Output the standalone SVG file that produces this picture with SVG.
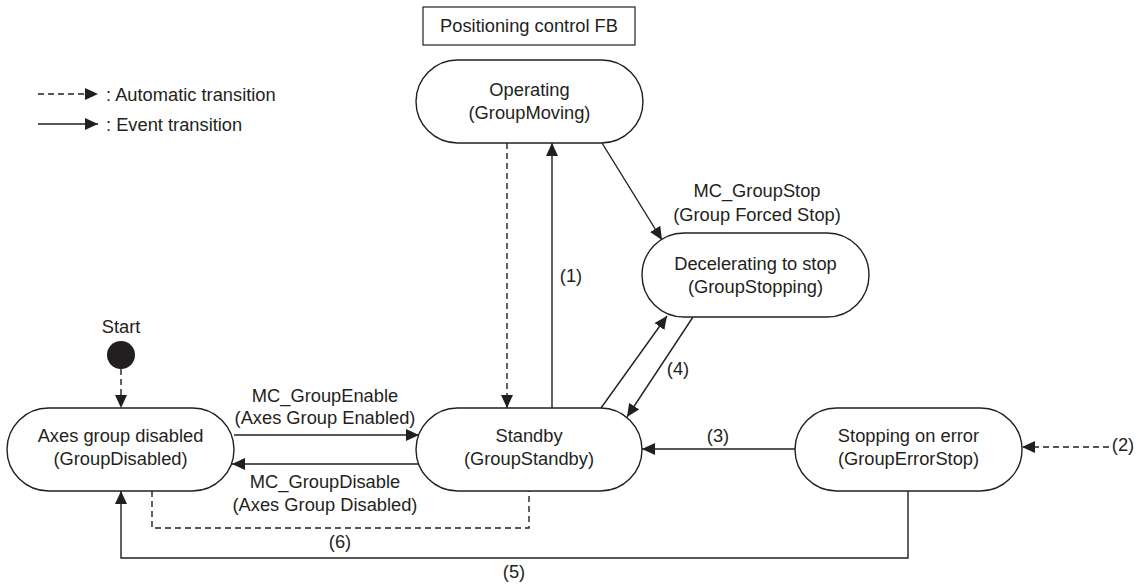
<svg xmlns="http://www.w3.org/2000/svg" width="1140" height="588" viewBox="0 0 1140 588">
<defs>
<marker id="ah" viewBox="0 0 13 12" markerWidth="13" markerHeight="12" refX="13" refY="6" orient="auto" markerUnits="userSpaceOnUse">
<path d="M0,0 L13,6 L0,12 z" fill="#231f20"/>
</marker>
<style>
text{font-family:"Liberation Sans",Arial,sans-serif;font-size:18.3px;fill:#231f20;text-anchor:middle}
.st{fill:#fff;stroke:#231f20;stroke-width:1.4}
.c{fill:none;stroke:#231f20;stroke-width:1.4}
.d{stroke-dasharray:6 4}
.a{marker-end:url(#ah)}
.l{text-anchor:start}
</style>
</defs>
<rect width="1140" height="588" fill="#fff"/>
<g id="legend">
<line class="c d a" x1="38" y1="94" x2="98" y2="94"/>
<text class="l" x="106" y="101">: Automatic transition</text>
<line class="c a" x1="38" y1="124" x2="98" y2="124"/>
<text class="l" x="106" y="131">: Event transition</text>
</g>
<g id="connectors">
<line class="c d a" x1="121" y1="369" x2="121" y2="408"/>
<line class="c d a" x1="507" y1="143" x2="507" y2="408"/>
<line class="c a" x1="552" y1="408" x2="552" y2="143"/>
<line class="c a" x1="602" y1="143" x2="662" y2="240"/>
<line class="c a" x1="601" y1="408" x2="667" y2="316"/>
<line class="c a" x1="693" y1="317" x2="627" y2="417"/>
<line class="c a" x1="234" y1="435" x2="419" y2="435"/>
<line class="c a" x1="418" y1="464" x2="232" y2="464"/>
<line class="c a" x1="795" y1="449" x2="642" y2="449"/>
<line class="c d a" x1="1109" y1="447" x2="1022" y2="447"/>
<polyline class="c a" points="908,491 908,558 121,558 121,491"/>
<polyline class="c d" points="152,491 152,528 529,528 529,491"/>
<text x="325" y="402">MC_GroupEnable</text>
<text x="325" y="424">(Axes Group Enabled)</text>
<text x="325" y="488">MC_GroupDisable</text>
<text x="325" y="511">(Axes Group Disabled)</text>
<text x="340" y="548">(6)</text>
<text x="514" y="578">(5)</text>
<text x="718" y="442">(3)</text>
<text x="1123" y="451">(2)</text>
<text x="678" y="375">(4)</text>
<text x="571" y="282">(1)</text>
<text x="757" y="197">MC_GroupStop</text>
<text x="757" y="221">(Group Forced Stop)</text>
</g>
<g id="fb">
<rect x="423" y="7" width="212" height="38" fill="#fff" stroke="#231f20" stroke-width="1.2"/>
<text x="529" y="32">Positioning control FB</text>
</g>
<g id="start">
<circle cx="121" cy="355" r="14" fill="#231f20"/>
<text x="121" y="333">Start</text>
</g>
<g id="operating">
<rect class="st" x="416" y="60" width="227" height="83" rx="41.5"/>
<text x="529.5" y="96">Operating</text>
<text x="529.5" y="119">(GroupMoving)</text>
</g>
<g id="decelerating">
<rect class="st" x="642" y="233" width="227" height="84" rx="42"/>
<text x="755.5" y="270">Decelerating to stop</text>
<text x="755.5" y="293">(GroupStopping)</text>
</g>
<g id="disabled">
<rect class="st" x="7" y="408" width="227" height="83" rx="41.5"/>
<text x="120.5" y="442">Axes group disabled</text>
<text x="120.5" y="465">(GroupDisabled)</text>
</g>
<g id="standby">
<rect class="st" x="416" y="408" width="226" height="83" rx="41.5"/>
<text x="529" y="442">Standby</text>
<text x="529" y="465">(GroupStandby)</text>
</g>
<g id="errorstop">
<rect class="st" x="795" y="408" width="227" height="83" rx="41.5"/>
<text x="908.5" y="442">Stopping on error</text>
<text x="908.5" y="465">(GroupErrorStop)</text>
</g>
</svg>
